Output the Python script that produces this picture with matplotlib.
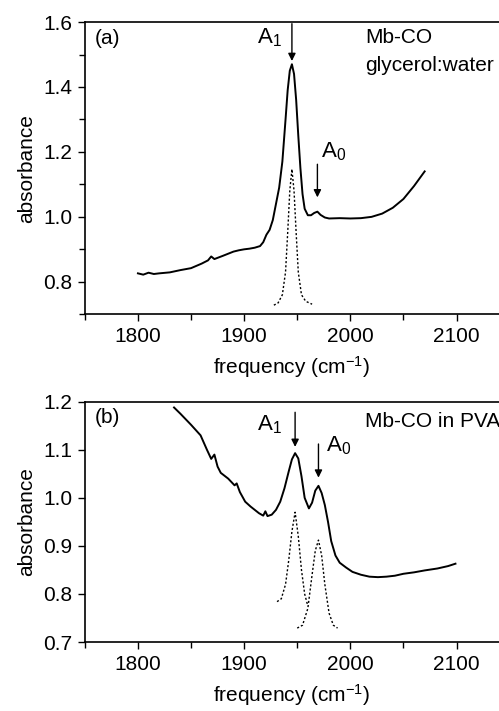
import matplotlib
matplotlib.use("Agg")
import matplotlib.pyplot as plt
from matplotlib.ticker import MultipleLocator

plt.rcParams['font.family'] = ['Liberation Sans', 'DejaVu Sans']
plt.rcParams['mathtext.fontset'] = 'custom'
plt.rcParams['mathtext.rm'] = 'Liberation Sans'
plt.rcParams['mathtext.it'] = 'Liberation Sans:italic'

# panel (a): Mb-CO in glycerol:water
freq_a = [1800, 1805, 1810, 1815, 1820, 1830, 1840, 1850, 1860, 1866, 1869, 1872,
          1880, 1890, 1895, 1900, 1905, 1910, 1915, 1918, 1921, 1924, 1927, 1930,
          1933, 1936, 1939, 1941, 1943, 1945, 1947, 1949, 1951, 1953, 1955, 1957,
          1960, 1963, 1966, 1969, 1972, 1976, 1980, 1990, 2000, 2010, 2020, 2030,
          2040, 2050, 2060, 2070]
abs_a = [0.826, 0.822, 0.828, 0.824, 0.826, 0.829, 0.836, 0.842, 0.856, 0.866, 0.878, 0.870,
         0.880, 0.893, 0.897, 0.900, 0.902, 0.905, 0.910, 0.922, 0.945, 0.960, 0.990, 1.040,
         1.090, 1.170, 1.300, 1.390, 1.450, 1.470, 1.440, 1.360, 1.250, 1.150, 1.070, 1.025,
         1.005, 1.005, 1.012, 1.016, 1.006, 0.998, 0.995, 0.996, 0.995, 0.996, 1.000, 1.010,
         1.028, 1.055, 1.095, 1.140]
fit_a_x = [1928, 1932, 1936, 1939, 1941, 1943, 1945, 1947, 1949, 1951, 1954, 1958, 1964]
fit_a_y = [0.728, 0.735, 0.760, 0.830, 0.950, 1.080, 1.147, 1.080, 0.950, 0.830, 0.760, 0.740, 0.731]

# panel (b): Mb-CO in PVA
freq_b = [1834, 1840, 1850, 1859, 1865, 1869, 1872, 1875, 1878, 1885, 1891, 1893, 1896,
          1901, 1906, 1910, 1914, 1918, 1920, 1922, 1926, 1930, 1934, 1938, 1942, 1945,
          1948, 1951, 1954, 1957, 1961, 1964, 1967, 1970, 1973, 1976, 1979, 1982, 1986,
          1990, 1996, 2002, 2010, 2018, 2026, 2034, 2042, 2050, 2060, 2070, 2082, 2092, 2099]
abs_b = [1.188, 1.175, 1.152, 1.130, 1.100, 1.081, 1.090, 1.065, 1.052, 1.040, 1.026, 1.030, 1.012,
         0.992, 0.982, 0.975, 0.968, 0.963, 0.972, 0.962, 0.965, 0.975, 0.992, 1.020, 1.055, 1.080,
         1.093, 1.082, 1.045, 1.000, 0.978, 0.990, 1.015, 1.025, 1.010, 0.985, 0.950, 0.910, 0.880,
         0.865, 0.855, 0.846, 0.840, 0.836, 0.835, 0.836, 0.838, 0.842, 0.845, 0.849, 0.853, 0.858, 0.863]
fit_b1_x = [1931, 1935, 1939, 1942, 1945, 1948, 1951, 1954, 1957, 1960]
fit_b1_y = [0.784, 0.790, 0.820, 0.870, 0.930, 0.970, 0.920, 0.850, 0.800, 0.775]
fit_b0_x = [1950, 1955, 1960, 1964, 1967, 1970, 1973, 1976, 1980, 1984, 1988]
fit_b0_y = [0.729, 0.735, 0.770, 0.840, 0.890, 0.912, 0.880, 0.820, 0.760, 0.735, 0.729]

fig = plt.figure(figsize=(4.99, 7.11), dpi=100)
ax_a = fig.add_axes([0.170, 0.558, 0.830, 0.411])
ax_b = fig.add_axes([0.170, 0.097, 0.830, 0.338])

fs = 15
for ax in (ax_a, ax_b):
    ax.set_xlim(1750, 2140)
    ax.xaxis.set_major_locator(MultipleLocator(100))
    ax.xaxis.set_minor_locator(MultipleLocator(50))
    ax.tick_params(which='both', direction='out', width=1, labelsize=fs, pad=4)
    ax.tick_params(which='major', length=5)
    ax.tick_params(which='minor', length=4)
    ax.spines['right'].set_visible(False)
    for s in ('left', 'bottom', 'top'):
        ax.spines[s].set_linewidth(1.2)
    ax.set_xlabel("frequency (cm$^{\\mathregular{-1}}$)", fontsize=fs, labelpad=6)
    ax.set_ylabel("absorbance", fontsize=fs, labelpad=5)

arrow = dict(arrowstyle='-|>', color='black', lw=1.0, mutation_scale=11, shrinkA=0, shrinkB=0)

# (a)
ax_a.plot(freq_a, abs_a, color='black', lw=1.4)
ax_a.plot(fit_a_x, fit_a_y, color='black', lw=1.0, ls=(0, (1.5, 1.5)))
ax_a.set_ylim(0.7, 1.6)
ax_a.yaxis.set_major_locator(MultipleLocator(0.2))
ax_a.yaxis.set_minor_locator(MultipleLocator(0.1))
ax_a.yaxis.set_major_formatter(lambda v, p: f"{v:.1f}")
ax_a.text(1759, 1.548, "(a)", fontsize=fs, va='center')
ax_a.text(2014, 1.551, "Mb-CO", fontsize=fs, va='center')
ax_a.text(2014, 1.467, "glycerol:water", fontsize=fs, va='center')
ax_a.annotate("", xy=(1945, 1.48), xytext=(1945, 1.595), arrowprops=arrow)
ax_a.text(1924, 1.552, "A$_{\\mathregular{1}}$", fontsize=fs + 1, ha='center', va='center')
ax_a.annotate("", xy=(1969, 1.06), xytext=(1969, 1.162), arrowprops=arrow)
ax_a.text(1984, 1.2, "A$_{\\mathregular{0}}$", fontsize=fs + 1, ha='center', va='center')

# (b)
ax_b.plot(freq_b, abs_b, color='black', lw=1.4)
ax_b.plot(fit_b1_x, fit_b1_y, color='black', lw=1.0, ls=(0, (1.5, 1.5)))
ax_b.plot(fit_b0_x, fit_b0_y, color='black', lw=1.0, ls=(0, (1.5, 1.5)))
ax_b.set_ylim(0.7, 1.2)
ax_b.yaxis.set_major_locator(MultipleLocator(0.1))
ax_b.yaxis.set_major_formatter(lambda v, p: f"{v:.1f}")
ax_b.text(1759, 1.167, "(b)", fontsize=fs, va='center')
ax_b.text(2014, 1.159, "Mb-CO in PVA", fontsize=fs, va='center')
ax_b.annotate("", xy=(1948, 1.106), xytext=(1948, 1.178), arrowprops=arrow)
ax_b.text(1924, 1.153, "A$_{\\mathregular{1}}$", fontsize=fs + 1, ha='center', va='center')
ax_b.annotate("", xy=(1970, 1.042), xytext=(1970, 1.112), arrowprops=arrow)
ax_b.text(1989, 1.108, "A$_{\\mathregular{0}}$", fontsize=fs + 1, ha='center', va='center')

fig.savefig("out.png", dpi=100)
